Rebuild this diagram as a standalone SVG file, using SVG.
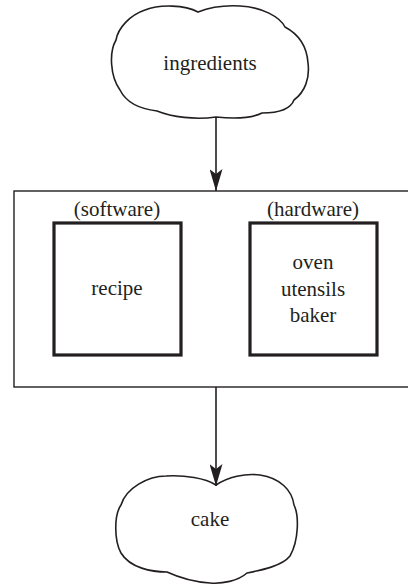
<svg xmlns="http://www.w3.org/2000/svg" width="408" height="584" viewBox="0 0 408 584">
<style>
text{font-family:'Liberation Serif','DejaVu Serif',serif;font-size:21px;fill:#231f20;text-anchor:middle}
.cloud{fill:#fff;stroke:#231f20;stroke-width:1.6}
.outer{fill:#fff;stroke:#231f20;stroke-width:1.4}
.box{fill:#fff;stroke:#231f20;stroke-width:3.2}
.conn{fill:none;stroke:#231f20;stroke-width:1.6}
</style>
<defs>
<marker id="ah" viewBox="0 0 22 13" refX="22" refY="6.5" markerWidth="22" markerHeight="13" markerUnits="userSpaceOnUse" orient="auto">
<path d="M0,0 L22,6.5 L0,13 L5,6.5 Z" fill="#231f20"/>
</marker>
</defs>
<g font-family="Liberation Serif, DejaVu Serif, serif">
<g id="ingredients">
<path class="cloud" d="M216,117 C236,119 252,118 262,113 C280,113 291,108 294,100 C305,92 310,78 308,63 C307,48 300,35 285,27 C280,17 262,7 240,6 C222,5 208,8 198,12 C185,5 160,4 145,10 C130,15 118,28 116,40 C109,52 110,76 120,90 C126,102 140,109 157,111 C172,117 195,120 216,117 Z"/>
<text x="210" y="70">ingredients</text>
</g>
<g id="system">
<rect class="outer" x="14" y="191" width="420" height="196"/>
</g>
<g id="software">
<text x="117" y="216">(software)</text>
<rect class="box" x="54" y="223" width="127" height="132"/>
<text x="117" y="295">recipe</text>
</g>
<g id="hardware">
<text x="313" y="216">(hardware)</text>
<rect class="box" x="250" y="223" width="127" height="132"/>
<text x="313" y="269">oven</text>
<text x="313" y="296">utensils</text>
<text x="313" y="322">baker</text>
</g>
<g id="cake">
<path class="cloud" d="M216,485 C228,477 245,473 260,475 C280,478 292,490 294,505 C299,515 299,540 290,556 C282,566 262,570 247,573 C238,581 222,584 210,583 C195,582 180,578 167,572 C152,572 130,568 121,553 C114,540 114,515 121,505 C126,488 148,476 166,476 C185,475 205,478 216,485 Z"/>
<text x="210" y="526">cake</text>
</g>
<g id="connectors">
<path class="conn" d="M216,117 L216,191" marker-end="url(#ah)"/>
<path class="conn" d="M216,387 L216,486" marker-end="url(#ah)"/>
</g>
</g>
</svg>
